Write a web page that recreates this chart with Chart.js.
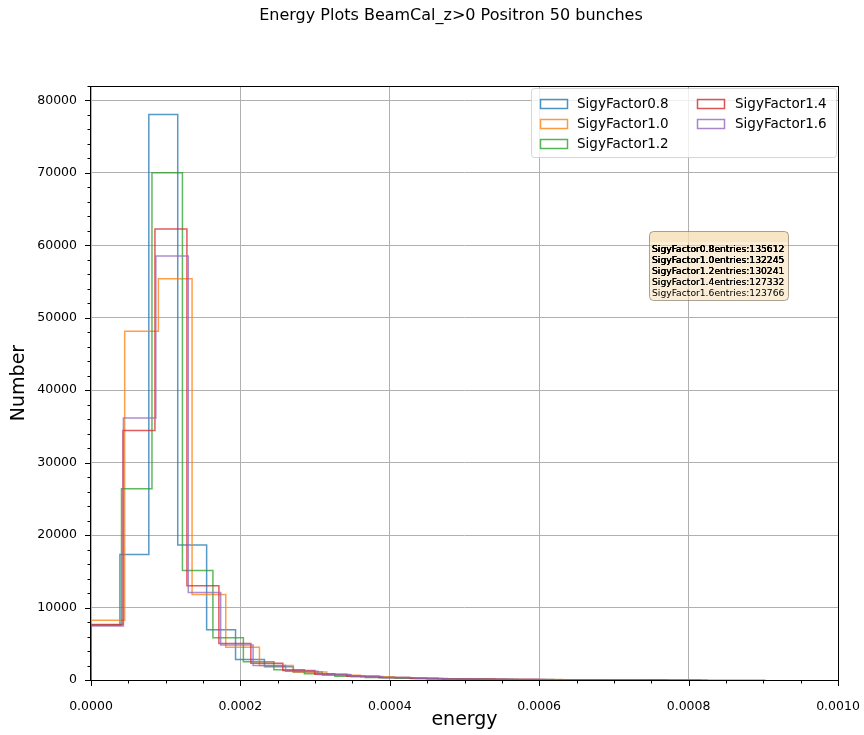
<!DOCTYPE html>
<html>
<head>
<meta charset="utf-8">
<title>Energy Plots BeamCal_z>0 Positron 50 bunches</title>
<script src="https://cdn.jsdelivr.net/npm/chart.js@4.4.0/dist/chart.umd.min.js"></script>
<style>
html, body { margin: 0; padding: 0; background: #ffffff; }
#wrap { width: 864px; height: 735px; }
</style>
</head>
<body>
<div id="wrap"><canvas id="energyChart" width="864" height="735"></canvas></div>
<script>
// series names and colours (matplotlib tab10)
const seriesLabels = ['SigyFactor0.8', 'SigyFactor1.0', 'SigyFactor1.2', 'SigyFactor1.4', 'SigyFactor1.6'];
const seriesColors = ['31, 119, 180', '255, 127, 14', '44, 160, 44', '214, 39, 40', '148, 103, 189'];

// each histogram starts at 0 and has its own bin width
const binWidths = [3.87e-5, 4.51e-5, 4.08e-5, 4.28e-5, 4.34e-5];

// counts per bin
const counts08 = [7500, 17200, 77500, 18500, 6900, 2800, 1800, 1100, 700, 480, 340, 240, 170, 120, 85, 60, 40, 25, 15, 8];
const counts10 = [8200, 47800, 55000, 11700, 4500, 2000, 1100, 650, 400, 260, 180, 120, 85, 60, 40, 28, 18, 12, 7, 4];
const counts12 = [7500, 26200, 69500, 15000, 5800, 2500, 1400, 850, 520, 340, 230, 160, 110, 75, 50, 35, 22, 14, 8, 4];
const counts14 = [7600, 34200, 61800, 12900, 5000, 2300, 1300, 800, 500, 330, 220, 150, 100, 65, 42, 26, 15, 8];
const counts16 = [7400, 35900, 58100, 12000, 4800, 2000, 1200, 750, 480, 320, 220, 150, 100, 70, 48, 32, 20, 11, 5];
const allCounts = [counts08, counts10, counts12, counts14, counts16];

// numbers in the text box
const entries = [135612, 132245, 130241, 127332, 123766];

// tick labels
const xTickLabels = ['0.0000', '0.0002', '0.0004', '0.0006', '0.0008', '0.0010'];
const yTickLabels = ['0', '10000', '20000', '30000', '40000', '50000', '60000', '70000', '80000'];

const TITLE = 'Energy Plots BeamCal_z>0 Positron 50 bunches';
const FONT = 'DejaVu Sans';
const X_MINOR = 0.00005;
const Y_MINOR = 2000;
const Y_MAX = 81400;

function histPoints(counts, width) {
    const pts = [{x: 0, y: 0}];
    counts.forEach((c, i) => pts.push({x: i * width, y: c}));
    pts.push({x: counts.length * width, y: 0});
    return pts;
}

function isMajorX(v) {
    return Math.round(v / X_MINOR) % 4 === 0;
}

function isMajorY(v) {
    return Math.round(v / Y_MINOR) % 5 === 0;
}

// frame + outward tick marks like matplotlib spines
const framePlugin = {
    id: 'frame',
    afterDraw(chart) {
        const {ctx, chartArea: a, scales} = chart;
        ctx.save();
        ctx.strokeStyle = '#000000';
        ctx.lineWidth = 1;
        scales.x.ticks.forEach(t => {
            const px = Math.round(scales.x.getPixelForValue(t.value)) + 0.5;
            const len = isMajorX(t.value) ? 6 : 3.5;
            ctx.beginPath();
            ctx.moveTo(px, a.bottom);
            ctx.lineTo(px, a.bottom + len);
            ctx.stroke();
        });
        scales.y.ticks.forEach(t => {
            const py = Math.round(scales.y.getPixelForValue(t.value)) + 0.5;
            const len = isMajorY(t.value) ? 6 : 3.5;
            ctx.beginPath();
            ctx.moveTo(a.left, py);
            ctx.lineTo(a.left - len, py);
            ctx.stroke();
        });
        ctx.strokeRect(Math.round(a.left) - 0.5, Math.round(a.top) + 0.5,
            Math.round(a.right - a.left) + 1, Math.round(a.bottom - a.top));

        // figure title (suptitle)
        ctx.font = '16px "' + FONT + '"';
        ctx.fillStyle = '#000000';
        ctx.textAlign = 'center';
        ctx.textBaseline = 'middle';
        ctx.fillText(TITLE, 451, 16);
        ctx.restore();
    }
};

function roundRect(ctx, x, y, w, h, r) {
    ctx.beginPath();
    ctx.moveTo(x + r, y);
    ctx.lineTo(x + w - r, y);
    ctx.quadraticCurveTo(x + w, y, x + w, y + r);
    ctx.lineTo(x + w, y + h - r);
    ctx.quadraticCurveTo(x + w, y + h, x + w - r, y + h);
    ctx.lineTo(x + r, y + h);
    ctx.quadraticCurveTo(x, y + h, x, y + h - r);
    ctx.lineTo(x, y + r);
    ctx.quadraticCurveTo(x, y, x + r, y);
    ctx.closePath();
}

// legend inside the axes, two columns
const legendPlugin = {
    id: 'insideLegend',
    afterDatasetsDraw(chart) {
        const {ctx} = chart;
        ctx.save();
        roundRect(ctx, 531.5, 88.5, 305, 69, 3);
        ctx.fillStyle = 'rgba(255, 255, 255, 0.8)';
        ctx.fill();
        ctx.strokeStyle = 'rgba(204, 204, 204, 0.8)';
        ctx.lineWidth = 1;
        ctx.stroke();

        ctx.font = '13.5px "' + FONT + '"';
        ctx.textBaseline = 'middle';
        ctx.fillStyle = '#000000';
        const cols = [{hx: 540, tx: 577}, {hx: 697, tx: 735}];
        seriesLabels.forEach((label, i) => {
            const col = cols[i < 3 ? 0 : 1];
            const row = i < 3 ? i : i - 3;
            const cy = 104 + row * 20;
            ctx.strokeStyle = 'rgba(' + seriesColors[i] + ', 0.8)';
            ctx.lineWidth = 1.5;
            ctx.strokeRect(col.hx + 0.5, cy - 4.5, 27, 9);
            ctx.fillText(label, col.tx, cy);
        });
        ctx.restore();
    }
};

// wheat text box with the entry counts (lines overprinted like the original)
const entriesPlugin = {
    id: 'entriesBox',
    afterDatasetsDraw(chart) {
        const {ctx} = chart;
        ctx.save();
        roundRect(ctx, 649.5, 231.5, 139, 69, 4);
        ctx.fillStyle = 'rgba(245, 222, 179, 0.5)';
        ctx.fill();
        ctx.save();
        ctx.clip();
        ctx.fillStyle = 'rgba(245, 222, 179, 0.55)';
        ctx.fillRect(649, 231, 141, 11);
        ctx.restore();
        ctx.strokeStyle = 'rgba(120, 105, 85, 0.6)';
        ctx.lineWidth = 1;
        roundRect(ctx, 649.5, 231.5, 139, 69, 4);
        ctx.stroke();

        ctx.font = '9.2px "' + FONT + '"';
        ctx.textBaseline = 'middle';
        ctx.fillStyle = '#000000';
        entries.forEach((n, i) => {
            const txt = seriesLabels[i] + 'entries:' + n;
            for (let k = 0; k < entries.length - i; k++) {
                ctx.fillText(txt, 652, 250 + i * 11);
            }
        });
        ctx.restore();
    }
};

const datasets = seriesLabels.map((label, i) => ({
    label: label,
    data: histPoints(allCounts[i], binWidths[i]),
    borderColor: 'rgba(' + seriesColors[i] + ', 0.75)',
    borderWidth: 1.5,
    backgroundColor: 'transparent',
    fill: false,
    stepped: true,
    pointRadius: 0,
    tension: 0,
    order: seriesLabels.length - i
}));

function noScalePadding(scale) {
    scale.paddingLeft = 0;
    scale.paddingRight = 0;
    scale.paddingTop = 0;
    scale.paddingBottom = 0;
}

const chart = new Chart(document.getElementById('energyChart'), {
    type: 'line',
    data: {datasets: datasets},
    options: {
        responsive: false,
        devicePixelRatio: 1,
        animation: false,
        layout: {padding: {left: 0, right: 26, top: 86, bottom: 0}},
        plugins: {
            legend: {display: false},
            tooltip: {enabled: false},
            title: {display: false}
        },
        scales: {
            x: {
                type: 'linear',
                min: 0,
                max: 0.001,
                bounds: 'data',
                afterFit: scale => { scale.height = 55; noScalePadding(scale); },
                border: {display: false},
                grid: {
                    drawTicks: false,
                    lineWidth: 1,
                    color: c => (c.tick && isMajorX(c.tick.value)) ? '#b0b0b0' : 'rgba(0,0,0,0)'
                },
                ticks: {
                    stepSize: X_MINOR,
                    autoSkip: false,
                    maxRotation: 0,
                    includeBounds: false,
                    padding: 19,
                    color: '#000000',
                    font: {family: FONT, size: 12.5},
                    callback: v => isMajorX(v) ? xTickLabels[Math.round(v / X_MINOR) / 4] : ''
                },
                title: {
                    display: true,
                    text: 'energy',
                    color: '#000000',
                    font: {family: FONT, size: 19},
                    padding: {top: 0, bottom: 3.5}
                }
            },
            y: {
                min: 0,
                max: Y_MAX,
                bounds: 'data',
                afterFit: scale => { scale.width = 91; noScalePadding(scale); },
                border: {display: false},
                grid: {
                    drawTicks: false,
                    lineWidth: 1,
                    color: c => (c.tick && isMajorY(c.tick.value)) ? '#b0b0b0' : 'rgba(0,0,0,0)'
                },
                ticks: {
                    stepSize: Y_MINOR,
                    autoSkip: false,
                    includeBounds: false,
                    padding: 14,
                    color: '#000000',
                    font: {family: FONT, size: 12.5},
                    callback: v => isMajorY(v) ? yTickLabels[Math.round(v / Y_MINOR) / 5] : ''
                },
                title: {
                    display: true,
                    text: 'Number',
                    color: '#000000',
                    font: {family: FONT, size: 19},
                    padding: {top: 7.5, bottom: 0}
                }
            }
        }
    },
    plugins: [legendPlugin, entriesPlugin, framePlugin]
});
</script>
</body>
</html>
